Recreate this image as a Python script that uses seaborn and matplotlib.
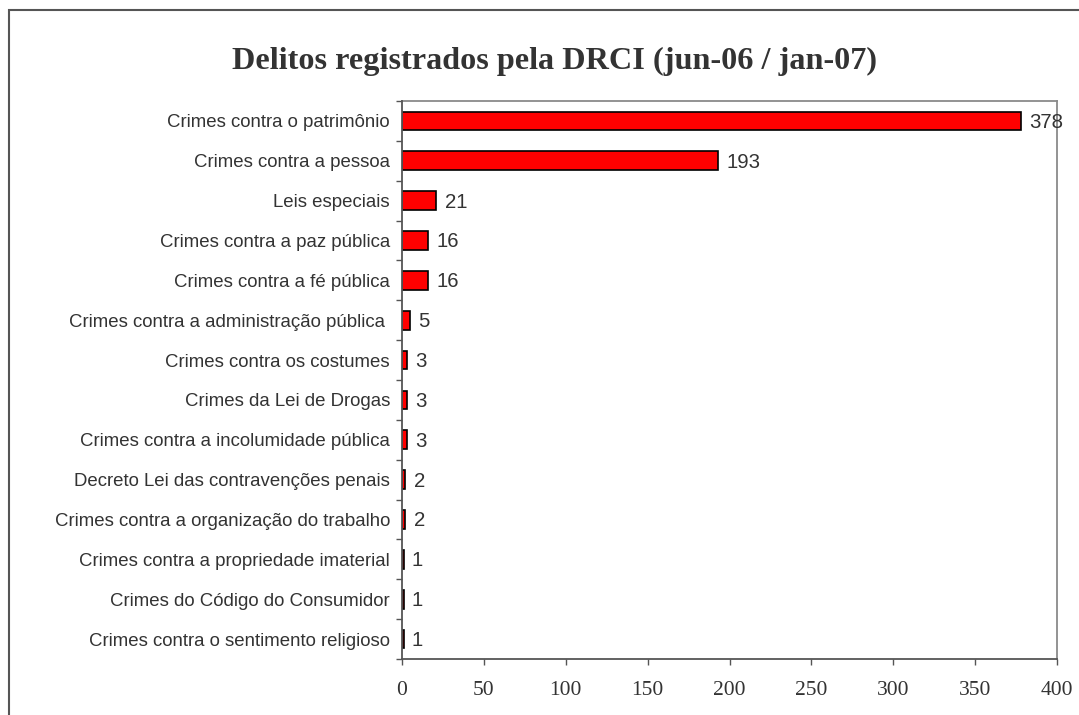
import matplotlib
matplotlib.use("Agg")
import matplotlib.pyplot as plt
import seaborn as sns
import numpy as np
import pandas as pd
from matplotlib.patches import Rectangle

categories = [
    "Crimes contra o patrimônio",
    "Crimes contra a pessoa",
    "Leis especiais",
    "Crimes contra a paz pública",
    "Crimes contra a fé pública",
    "Crimes contra a administração pública ",
    "Crimes contra os costumes",
    "Crimes da Lei de Drogas",
    "Crimes contra a incolumidade pública",
    "Decreto Lei das contravenções penais",
    "Crimes contra a organização do trabalho",
    "Crimes contra a propriedade imaterial",
    "Crimes do Código do Consumidor",
    "Crimes contra o sentimento religioso",
]
values = [378, 193, 21, 16, 16, 5, 3, 3, 3, 2, 2, 1, 1, 1]
x_ticks = [0, 50, 100, 150, 200, 250, 300, 350, 400]
title = "Delitos registrados pela DRCI (jun-06 / jan-07)"

df = pd.DataFrame({"categoria": categories, "valor": values})

sns.set_theme(style="white")
plt.rcParams["font.family"] = ["Liberation Sans", "DejaVu Sans"]

W, H = 1079, 715
fig = plt.figure(figsize=(W / 100, H / 100), dpi=100)
ax = fig.add_axes([402 / W, 1 - 659 / H, (1057 - 402) / W, (659 - 101) / H])

sns.barplot(data=df, x="valor", y="categoria", order=categories, orient="h",
            color="#FF0000", saturation=1, width=0.47, edgecolor="black",
            linewidth=1.2, ax=ax)

ax.set_xlim(0, 400)
ax.set_ylim(len(categories) - 0.5, -0.5)
ax.set_xticks(x_ticks)
ax.set_xticklabels([str(t) for t in x_ticks], family=["Liberation Serif", "DejaVu Serif"],
                   fontsize=15.5, color="#333333")
ax.set_yticks(np.arange(len(categories)))
ax.set_yticklabels(categories, fontsize=13.4, color="#333333")
ax.set_yticks(np.arange(-0.5, len(categories), 1), minor=True)
ax.tick_params(axis="y", which="major", length=0, pad=8.6)
ax.tick_params(axis="y", which="minor", length=4.3, width=1, color="#555555", direction="out", left=True)
ax.tick_params(axis="x", which="major", length=4.3, width=1, color="#555555", direction="out", bottom=True, pad=11.5)
ax.set_xlabel("")
ax.set_ylabel("")

for side in ["left", "bottom"]:
    ax.spines[side].set_color("#555555")
    ax.spines[side].set_linewidth(1.3)
for side in ["top", "right"]:
    ax.spines[side].set_color("#8a8a8a")
    ax.spines[side].set_linewidth(1.3)
ax.spines["left"].set_zorder(5)

for i, v in enumerate(values):
    ax.annotate(str(v), xy=(v, i), xytext=(6, -1), textcoords="offset points",
                ha="left", va="center", fontsize=14.7, color="#333333",
                annotation_clip=False)

fig.text(555 / W, 1 - 61 / H, title, ha="center", va="center",
         family=["Liberation Serif", "DejaVu Serif"], fontweight="bold",
         fontsize=23.2, color="#333333")

fig.patches.append(Rectangle((9 / W, -0.1), 1.2, 1 - 10 / H + 0.1,
                             transform=fig.transFigure, fill=False,
                             edgecolor="#555555", linewidth=1.5))

fig.savefig("out.png", dpi=100)
